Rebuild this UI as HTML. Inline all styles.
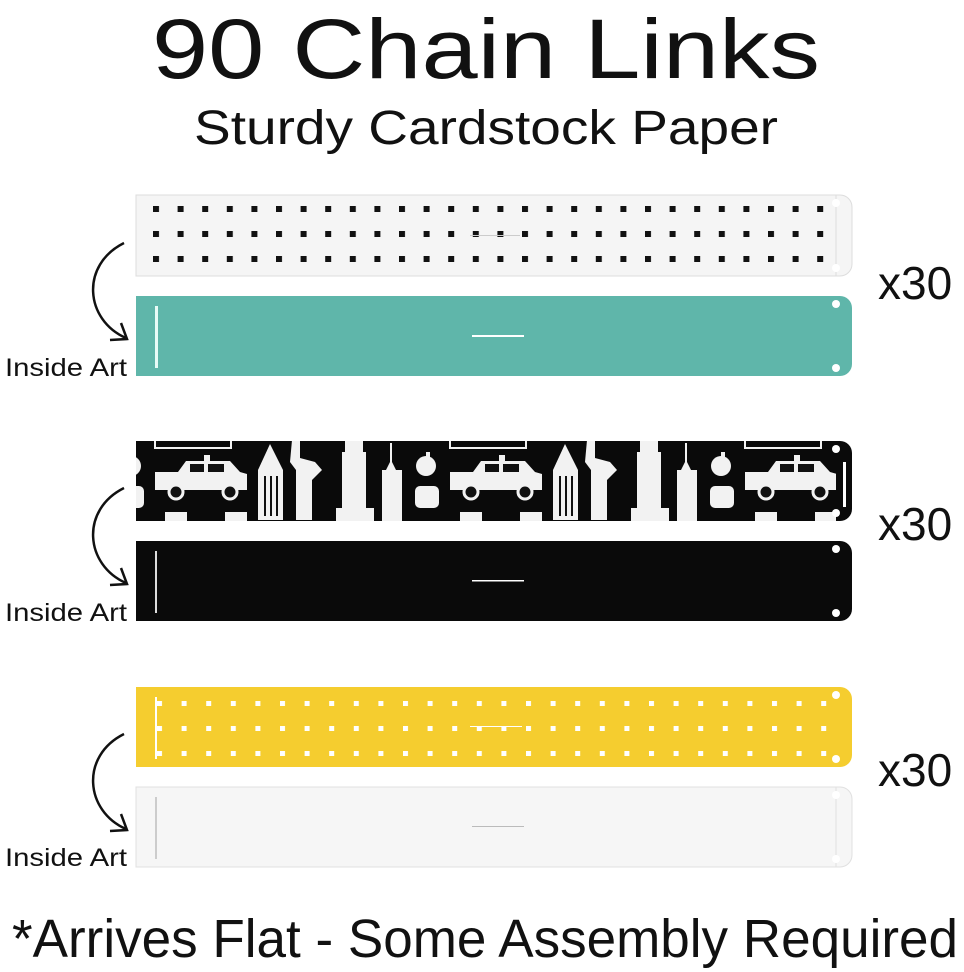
<!DOCTYPE html>
<html><head><style>
html,body{margin:0;padding:0;background:#fff;}
svg{display:block;}
text{font-family:"Liberation Sans",sans-serif;}
</style></head><body>
<svg width="964" height="972" viewBox="0 0 964 972" xmlns="http://www.w3.org/2000/svg">
<defs>
<pattern id="dotsB" x="153" y="206" width="24.6" height="25" patternUnits="userSpaceOnUse">
<rect x="0" y="0" width="6" height="6" fill="#111"/>
</pattern>
<pattern id="dotsW" x="157" y="701" width="24.6" height="25" patternUnits="userSpaceOnUse">
<rect x="0" y="0" width="5" height="5" fill="#fff"/>
</pattern>
<pattern id="nyc" x="150" y="0" width="295" height="972" patternUnits="userSpaceOnUse">
<g fill="#f2f2f2" transform="translate(-150,0)">
<rect x="155" y="438" width="76" height="10" fill="none" stroke="#f2f2f2" stroke-width="2"/>
<path d="M155 472 L178 472 L186 461 L230 461 L240 472 L247 474 L247 490 L155 490 Z"/>
<rect x="204" y="455" width="6" height="6"/>
<circle cx="176" cy="492" r="7" fill="#111" stroke="#f2f2f2" stroke-width="3"/>
<circle cx="230" cy="492" r="7" fill="#111" stroke="#f2f2f2" stroke-width="3"/>
<rect x="190" y="464" width="14" height="8" fill="#111"/><rect x="208" y="464" width="16" height="8" fill="#111"/>
<path d="M258 470 L270 444 L283 470 L283 520 L258 520 Z"/>
<rect x="264" y="476" width="2" height="40" fill="#111"/><rect x="270" y="476" width="2" height="40" fill="#111"/><rect x="276" y="476" width="2" height="40" fill="#111"/>
<path d="M292 440 L300 440 L300 458 L315 462 L322 470 L312 480 L312 520 L296 520 L296 470 L290 462 Z"/>
<rect x="345" y="440" width="18" height="12"/>
<rect x="342" y="452" width="24" height="56"/>
<rect x="336" y="508" width="38" height="13"/>
<rect x="390" y="443" width="2" height="20"/>
<path d="M386 470 L391 460 L396 470 Z"/>
<rect x="382" y="470" width="20" height="51"/>
<circle cx="426" cy="466" r="10"/>
<rect x="426" y="452" width="4" height="5"/>
<rect x="415" y="486" width="24" height="22" rx="5"/>
<rect x="165" y="512" width="22" height="9"/>
<rect x="225" y="512" width="22" height="9"/>
</g>
</pattern>
</defs>

<text x="486" y="78" font-size="84" text-anchor="middle" textLength="668" lengthAdjust="spacingAndGlyphs" fill="#111">90 Chain Links</text>
<text x="486" y="144" font-size="48" text-anchor="middle" textLength="584" lengthAdjust="spacingAndGlyphs" fill="#111">Sturdy Cardstock Paper</text>

<!-- strip 1 -->
<rect x="822" y="195" width="30" height="81" rx="12" fill="#f5f5f5" stroke="#ddd"/>
<rect x="136" y="195" width="700" height="81" fill="#f5f5f5" stroke="#ddd"/>
<rect x="150" y="195" width="686" height="81" fill="url(#dotsB)"/>
<rect x="470" y="235" width="50" height="1" fill="#ccc"/>
<circle cx="836" cy="203" r="4" fill="#fff"/><circle cx="836" cy="268" r="4" fill="#fff"/>
<!-- strip 2 -->
<rect x="822" y="296" width="30" height="80" rx="12" fill="#5fb6aa"/>
<rect x="136" y="296" width="700" height="80" fill="#5fb6aa"/>
<circle cx="836" cy="304" r="4" fill="#fff"/><circle cx="836" cy="368" r="4" fill="#fff"/>
<rect x="155" y="306" width="3" height="62" fill="#e8fbf7"/>
<rect x="472" y="335" width="52" height="2" fill="#fff"/>
<!-- strip 3 -->
<rect x="822" y="441" width="30" height="80" rx="12" fill="#0a0a0a"/>
<rect x="136" y="441" width="700" height="80" fill="#0a0a0a"/>
<rect x="136" y="441" width="700" height="80" fill="url(#nyc)"/>
<circle cx="836" cy="449" r="4" fill="#fff"/><circle cx="836" cy="513" r="4" fill="#fff"/>
<rect x="843" y="462" width="3" height="45" fill="#fff"/>
<!-- strip 4 -->
<rect x="822" y="541" width="30" height="80" rx="12" fill="#0a0a0a"/>
<rect x="136" y="541" width="700" height="80" fill="#0a0a0a"/>
<circle cx="836" cy="549" r="4" fill="#fff"/><circle cx="836" cy="613" r="4" fill="#fff"/>
<rect x="155" y="551" width="2" height="62" fill="#ddd"/>
<rect x="472" y="580" width="52" height="1.5" fill="#fff"/>
<!-- strip 5 -->
<rect x="822" y="687" width="30" height="80" rx="12" fill="#f5cd2f"/>
<rect x="136" y="687" width="700" height="80" fill="#f5cd2f"/>
<rect x="150" y="687" width="686" height="80" fill="url(#dotsW)"/>
<circle cx="836" cy="695" r="4" fill="#fff"/><circle cx="836" cy="759" r="4" fill="#fff"/>
<rect x="155" y="697" width="2" height="62" fill="#fff"/>
<rect x="470" y="726" width="52" height="1" fill="#fff"/>
<!-- strip 6 -->
<rect x="822" y="787" width="30" height="80" rx="12" fill="#f6f6f6" stroke="#e0e0e0"/>
<rect x="136" y="787" width="700" height="80" fill="#f6f6f6" stroke="#e0e0e0"/>
<circle cx="836" cy="795" r="4" fill="#fff"/><circle cx="836" cy="859" r="4" fill="#fff"/>
<rect x="155" y="797" width="2" height="62" fill="#ccc"/>
<rect x="472" y="826" width="52" height="1" fill="#bbb"/>

<text x="878" y="299" font-size="46" fill="#111">x30</text>
<text x="878" y="540" font-size="46" fill="#111">x30</text>
<text x="878" y="786" font-size="46" fill="#111">x30</text>

<g fill="none" stroke="#111" stroke-width="2.5">
<path d="M124 243 C80 265 85 320 126 338"/>
<path d="M110 340 L127 339 L121 323"/>
<path d="M124 488 C80 510 85 565 126 583"/>
<path d="M110 585 L127 584 L121 568"/>
<path d="M124 734 C80 756 85 811 126 829"/>
<path d="M110 831 L127 830 L121 814"/>
</g>
<text x="5" y="376" font-size="25" textLength="122" lengthAdjust="spacingAndGlyphs" fill="#111">Inside Art</text>
<text x="5" y="621" font-size="25" textLength="122" lengthAdjust="spacingAndGlyphs" fill="#111">Inside Art</text>
<text x="5" y="866" font-size="25" textLength="122" lengthAdjust="spacingAndGlyphs" fill="#111">Inside Art</text>

<text x="485" y="957" font-size="54" text-anchor="middle" textLength="946" lengthAdjust="spacingAndGlyphs" fill="#111">*Arrives Flat - Some Assembly Required</text>
</svg>
</body></html>
